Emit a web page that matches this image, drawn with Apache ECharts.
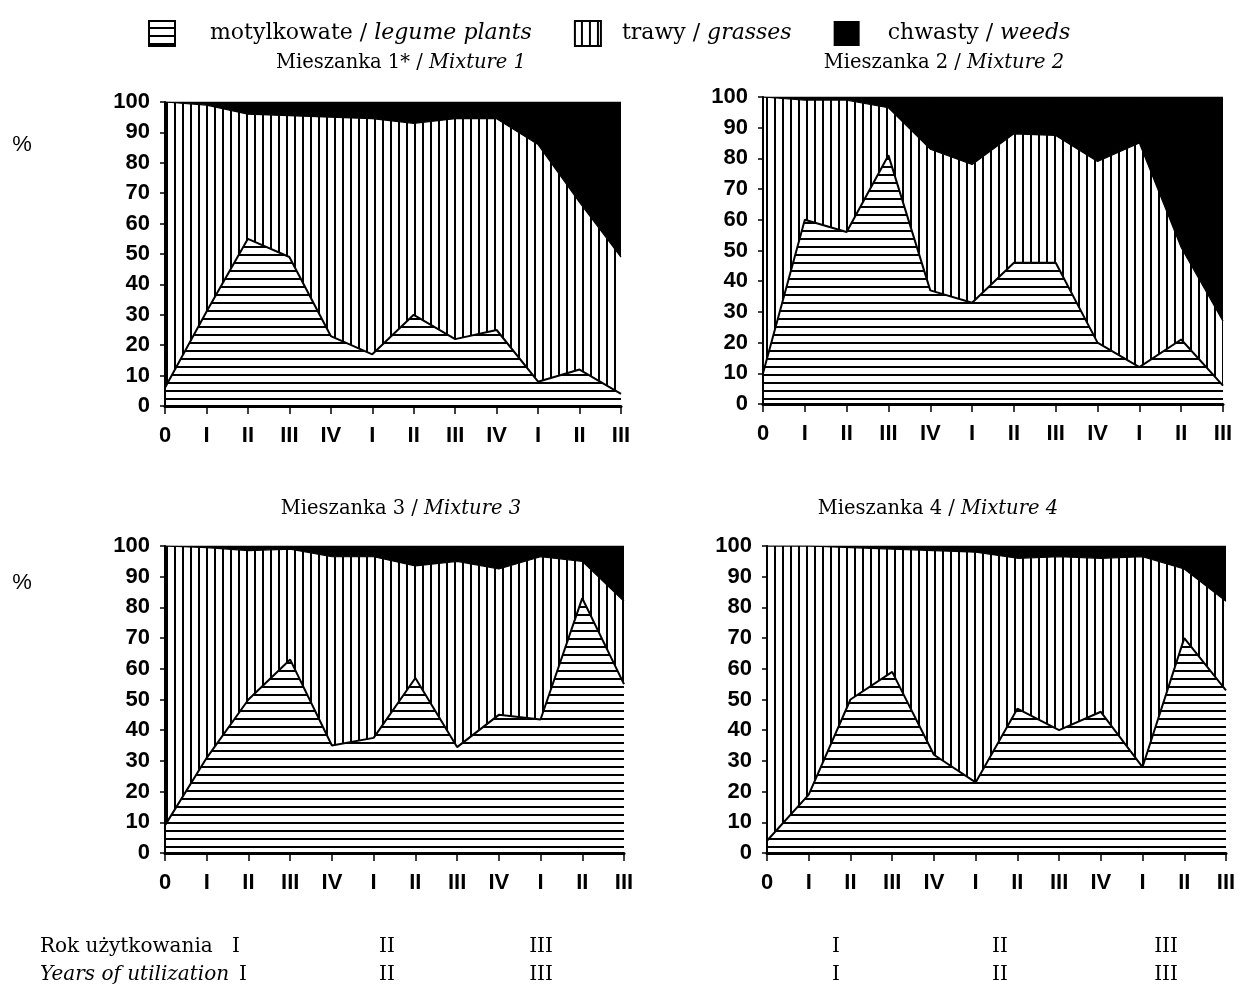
<!DOCTYPE html>
<html>
<head>
<meta charset="utf-8">
<script src="https://cdn.jsdelivr.net/npm/echarts@6/dist/echarts.min.js"></script>
<style>
html,body{margin:0;padding:0;background:#fff;}
#chart{width:1240px;height:987px;}
</style>
</head>
<body>
<div id="chart"></div>
<script>
// ---- data ----
const categories = ['0','I','II','III','IV','I','II','III','IV','I','II','III'];

// legume share (%) – lower boundary
const legumes1 = [6, 31, 55, 49, 23, 17, 30, 22, 25, 8, 12, 4];
const legumes2 = [10, 60, 56, 81, 37, 33, 46, 46, 20, 12, 21, 6];
const legumes3 = [9, 31, 50, 63, 35, 37.5, 57, 34.5, 45, 43.5, 83, 55];
const legumes4 = [4, 19, 50, 59, 32, 23, 47, 40, 46, 28, 70, 53];

// legumes + grasses (%) – upper boundary (remainder = weeds)
const sward1 = [100, 99, 96, 95.5, 95, 94.5, 93, 94.5, 94.5, 86, 67, 49];
const sward2 = [100, 99, 99, 96.5, 83, 78, 88, 87.5, 79, 85, 51, 27];
const sward3 = [100, 99.5, 98.5, 99, 96.5, 96.5, 93.5, 95, 92.5, 96.5, 95, 82];
const sward4 = [100, 100, 99.5, 99, 98.5, 98, 96, 96.5, 96, 96.5, 92.5, 82];

const panelTitles = ['Mieszanka 1* / ', 'Mieszanka 2 / ', 'Mieszanka 3 / ', 'Mieszanka 4 / '];
const panelTitlesEn = ['Mixture 1', 'Mixture 2', 'Mixture 3', 'Mixture 4'];
const yearRowTitles = ['Rok użytkowania', 'Years of utilization'];
const yearLabels = ['I', 'II', 'III', 'I', 'II', 'III'];

const legendNames = ['legumes', 'grasses', 'weeds'];
const legendPl = ['motylkowate / ', 'trawy / ', 'chwasty / '];
const legendEn = ['legume plants', 'grasses', 'weeds'];

// ---- patterns ----
function hatch(dir) {
  const c = document.createElement('canvas');
  c.width = 8; c.height = 8;
  const ctx = c.getContext('2d');
  ctx.fillStyle = '#000';
  if (dir === 'h') ctx.fillRect(0, 6, 8, 2);
  else ctx.fillRect(6, 0, 2, 8);
  return c;
}
const hPat = { image: hatch('h'), repeat: 'repeat' };
const vPat = { image: hatch('v'), repeat: 'repeat' };

// ---- layout ----
const grids = [
  { left: 165, top: 102, width: 456, height: 304 },
  { left: 763, top: 97, width: 460, height: 307 },
  { left: 165, top: 546, width: 459, height: 307 },
  { left: 767, top: 546, width: 459, height: 307 }
];
const legumesAll = [legumes1, legumes2, legumes3, legumes4];
const swardAll = [sward1, sward2, sward3, sward4];

const sansBold = { color: '#000', fontWeight: 'bold', fontSize: 22, fontFamily: 'Liberation Sans, Arial, sans-serif' };

const xAxes = grids.map((g, i) => ({
  gridIndex: i, type: 'category', data: categories, boundaryGap: false,
  axisLine: { lineStyle: { color: '#000', width: 3 } },
  axisTick: { show: true, length: 8, lineStyle: { color: '#000', width: 1.5 } },
  axisLabel: Object.assign({ margin: 19, interval: 0 }, sansBold),
  splitLine: { show: false }
}));
const yAxes = grids.map((g, i) => ({
  gridIndex: i, type: 'value', min: 0, max: 100, interval: 10,
  axisLine: { show: true, lineStyle: { color: '#000', width: 2 } },
  axisTick: { show: true, length: 5, lineStyle: { color: '#000', width: 1.5 } },
  axisLabel: Object.assign({ margin: 15 }, sansBold),
  splitLine: { show: false }
}));

const series = [];
grids.forEach((g, i) => {
  const leg = legumesAll[i];
  const sw = swardAll[i];
  const grass = sw.map((v, k) => +(v - leg[k]).toFixed(2));
  const weeds = sw.map(v => +(100 - v).toFixed(2));
  const base = { type: 'line', xAxisIndex: i, yAxisIndex: i, stack: 'mix' + i, symbol: 'none', silent: true, animation: false };
  series.push(Object.assign({}, base, {
    name: 'legumes', data: leg, z: 3,
    itemStyle: { color: '#000' },
    lineStyle: { color: '#000', width: 2 },
    areaStyle: { color: hPat, opacity: 1 }
  }));
  series.push(Object.assign({}, base, {
    name: 'grasses', data: grass, z: 2,
    itemStyle: { color: '#000' },
    lineStyle: { color: '#000', width: 1.2 },
    areaStyle: { color: vPat, opacity: 1 }
  }));
  series.push(Object.assign({}, base, {
    name: 'weeds', data: weeds, z: 2,
    itemStyle: { color: '#000' },
    lineStyle: { color: '#000', width: 1 },
    areaStyle: { color: '#000', opacity: 1 }
  }));
});

const serif = 'DejaVu Serif, serif';
function txt(x, y, text, align, size, italic) {
  return {
    type: 'text', x: x, y: y, silent: true,
    style: {
      text: text, fontFamily: serif, fontSize: size, fill: '#000',
      fontStyle: italic ? 'italic' : 'normal',
      textAlign: align, textVerticalAlign: 'middle', align: align, verticalAlign: 'middle',
      rich: { i: { fontFamily: serif, fontSize: size, fontStyle: 'italic', fill: '#000' } }
    }
  };
}
const titlePos = [[401, 63], [944, 63], [401, 509], [938, 509]];
const graphics = [];
titlePos.forEach((p, i) => {
  graphics.push(txt(p[0], p[1], panelTitles[i] + '{i|' + panelTitlesEn[i] + '}', 'center', 19.5, false));
});
[145, 583].forEach(y => {
  graphics.push({
    type: 'text', x: 22, y: y, silent: true,
    style: { text: '%', fontFamily: 'Liberation Sans, Arial, sans-serif', fontSize: 22, fill: '#000',
      textAlign: 'center', textVerticalAlign: 'middle', align: 'center', verticalAlign: 'middle' }
  });
});
// bottom "years of utilization" rows
const rowY = [947, 975];
graphics.push(txt(40, rowY[0], yearRowTitles[0], 'left', 20, false));
graphics.push(txt(40, rowY[1], yearRowTitles[1], 'left', 20, true));
const yearX = [[236, 243], [387, 387], [541, 541], [836, 836], [1000, 1000], [1166, 1166]];
yearLabels.forEach((t, k) => {
  rowY.forEach((y, r) => {
    graphics.push(txt(yearX[k][r], y, t, 'center', 20, false));
  });
});

const legendItemStyles = [
  { color: hPat, borderColor: '#000', borderWidth: 2 },
  { color: vPat, borderColor: '#000', borderWidth: 2 },
  { color: '#000', borderColor: '#000', borderWidth: 0 }
];
const legendSpacer = ['s1', 's2', 's3'];

const option = {
  backgroundColor: '#fff',
  animation: false,
  grid: grids.map(g => Object.assign({ containLabel: false }, g)),
  xAxis: xAxes,
  yAxis: yAxes,
  legend: {
    left: 148, top: 20, padding: 0,
    itemWidth: 26, itemHeight: 25, itemGap: 42,
    selectedMode: false,
    data: legendNames.map((n, k) => ({ name: n, icon: 'rect', itemStyle: legendItemStyles[k] })),
    formatter: function (name) {
      const k = legendNames.indexOf(name);
      return '{' + legendSpacer[k] + '|}' + legendPl[k] + '{i|' + legendEn[k] + '}';
    },
    textStyle: {
      color: '#000', fontFamily: serif, fontSize: 22,
      rich: {
        s1: { width: 30 },
        s2: { width: 16 },
        s3: { width: 23 },
        i: { fontFamily: serif, fontSize: 22, fontStyle: 'italic', color: '#000' }
      }
    }
  },
  graphic: graphics,
  series: series
};

const chart = echarts.init(document.getElementById('chart'), null, { renderer: 'canvas' });
chart.setOption(option);
</script>
</body>
</html>
